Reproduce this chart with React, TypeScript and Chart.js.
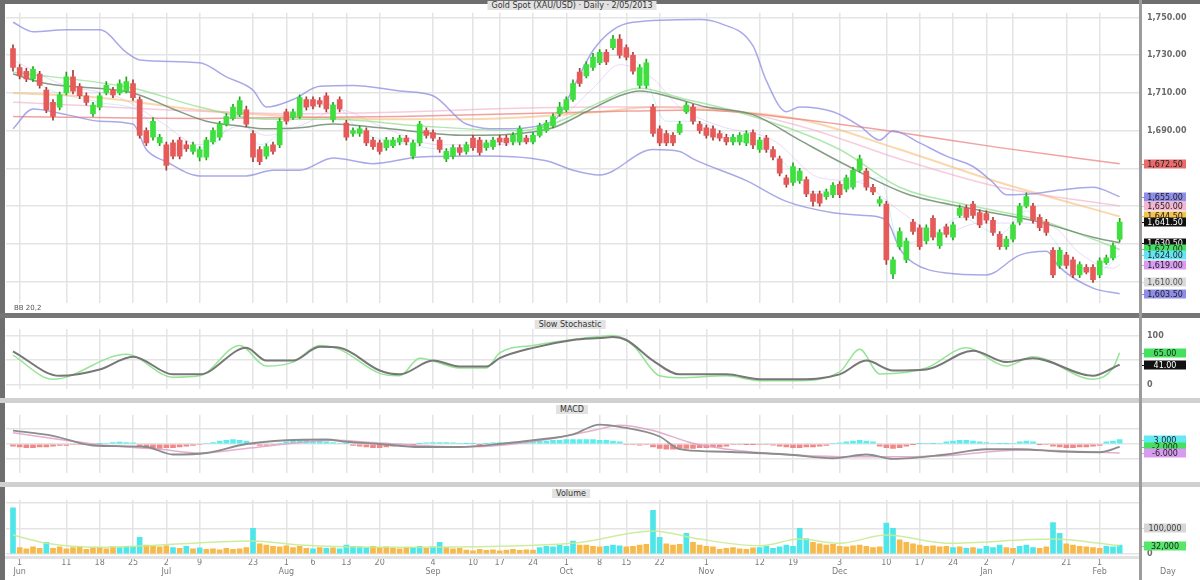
import React, { useEffect, useRef } from "react";
import { Chart, registerables } from "chart.js";
Chart.register(...registerables);
Chart.defaults.font.family = '"DejaVu Sans", sans-serif';

// ---------------- price candles ----------------
const openP = [1733.5,1723.5,1721.5,1717.5,1720,1711.5,1705,1702.5,1710,1718.5,1713.5,1708.5,1699,1702.5,1710,1711.5,1710,1711,1715,1706.5,1690,1686.5,1683.5,1682.5,1683.5,1685,1682.5,1679,1676,1676,1684,1686.5,1693.5,1696.5,1698.5,1701,1688.5,1680,1676.5,1682.5,1682.5,1700,1697,1697.5,1706.5,1706.5,1706,1708.5,1696,1706.5,1694,1688.5,1688.5,1690,1685,1683.5,1681,1682,1684,1686,1676.5,1683.5,1690,1689,1685,1675,1676.5,1681,1679,1686,1685,1681,1681.5,1686,1686,1684,1684,1686,1684,1687.5,1690,1692.5,1699,1701,1706.5,1721,1719,1723.5,1726,1731.5,1734,1738.5,1734,1730,1714,1714,1702.5,1691,1688.5,1687.5,1689,1700,1702.5,1693.5,1691.5,1691,1688.5,1686.5,1684,1684,1683.5,1689,1680,1686,1680,1675,1665,1662.5,1663.5,1664,1656.5,1656.5,1655,1656,1661.5,1659,1660,1669,1668.5,1660,1651.5,1651,1614,1628.5,1621.5,1641.5,1638.5,1631.5,1643.5,1629,1639,1633.5,1645,1649,1651,1646.5,1646,1642.5,1635,1628.5,1632.5,1641.5,1650,1650,1644,1641.5,1626.5,1618.5,1624,1621.5,1613.5,1617.5,1617.5,1613.5,1620,1622.5,1632.5];
const highP = [1735.5,1725,1723,1724,1721.5,1713,1706.5,1710.5,1721,1722,1715,1710,1705,1710,1716,1713,1717,1718.5,1717,1708,1691.5,1697,1688,1684,1685,1686.5,1684.5,1684,1681.5,1686.5,1691.5,1695,1699,1704,1708,1703,1690,1681.5,1683,1684,1696.5,1701.5,1701.5,1709,1708,1708,1707.5,1710,1705,1708,1695.5,1691.5,1692.5,1691.5,1686.5,1685,1686.5,1686.5,1687.5,1687.5,1685,1695,1691.5,1690.5,1686.5,1680.5,1682.5,1682.5,1684,1687.5,1686.5,1685,1686.5,1687.5,1687.5,1689,1692.5,1687.5,1689,1694,1695.5,1699,1705,1708,1717,1723,1726.5,1731,1733,1733,1740.5,1741,1735.5,1731.5,1725,1728,1704,1692.5,1690,1689,1695,1705,1704,1695,1693,1692.5,1690,1688,1688,1689,1690,1690.5,1686.5,1687.5,1681.5,1676.5,1666.5,1673,1670,1665.5,1658,1658,1659,1662.5,1663,1666.5,1670.5,1677,1670,1661.5,1655,1652.5,1623,1638.5,1633,1643,1640,1640,1645,1637.5,1640.5,1641.5,1650.5,1650.5,1652.5,1648,1647.5,1644,1636.5,1634,1641.5,1651.5,1657,1651.5,1645.5,1643,1628,1628,1625.5,1623,1620.5,1619,1619,1622.5,1624,1630.5,1643.5];
const lowP = [1721.5,1717.5,1716,1716,1712.5,1699.5,1695.5,1701,1709,1709.5,1707,1703.5,1697.5,1701,1709,1707.5,1709,1710,1706,1686,1682,1685,1682,1669,1675,1675,1679,1677.5,1674,1674.5,1683,1685,1692.5,1695.5,1697.5,1692,1673.5,1672,1675,1677.5,1681,1693.5,1696,1696.5,1701,1701.5,1702.5,1700,1694.5,1700,1685,1687,1687,1682,1680,1677.5,1679.5,1681,1682.5,1682.5,1675,1682,1686,1684.5,1678.5,1673.5,1675,1677,1677.5,1679.5,1677,1679.5,1680,1682.5,1682,1682.5,1682.5,1683,1683,1686.5,1689,1691.5,1697.5,1700,1705.5,1713.5,1718,1722,1725,1725,1733,1728.5,1727.5,1720,1712.5,1712.5,1687,1682,1682,1682,1688,1699,1693.5,1688.5,1686,1685,1684.5,1682.5,1682.5,1682.5,1682,1680.5,1678.5,1678.5,1674.5,1666,1660,1661,1662,1655,1650,1650,1653.5,1654.5,1654.5,1657.5,1659,1668,1658.5,1656,1650,1619,1611.5,1627,1620,1635,1627,1630,1632,1627.5,1633.5,1632,1644,1642.5,1643.5,1638.5,1641,1634.5,1627,1627,1631,1640,1649,1641,1637,1634.5,1612,1617,1617,1612,1612,1614,1609.5,1612,1619,1621.5,1631];
const closeP = [1723.5,1719,1717.5,1722.5,1714,1701,1697.5,1709,1718.5,1711,1708.5,1705,1703.5,1708.5,1714,1709,1715,1716,1707.5,1687.5,1683.5,1695,1686.5,1671.5,1676.5,1676.5,1680.5,1682.5,1680,1685,1690,1693.5,1697.5,1702.5,1706,1693.5,1676,1673.5,1681.5,1679,1695,1695,1700,1707.5,1702.5,1703,1704,1701.5,1703.5,1701.5,1686.5,1690,1691,1683.5,1681.5,1679,1685,1685,1686,1684,1683.5,1693.5,1687.5,1686,1680,1679,1681,1678.5,1682.5,1681,1678.5,1683.5,1685,1684,1683.5,1687.5,1691,1684,1687.5,1692.5,1694,1697.5,1702.5,1706.5,1715,1715,1725,1729,1731.5,1726.5,1738.5,1730,1729,1721.5,1723.5,1726,1688.5,1683.5,1683.5,1683.5,1693.5,1703.5,1695,1690,1687.5,1686.5,1686,1684,1686.5,1687.5,1688.5,1682.5,1685,1680,1676,1667.5,1661.5,1671,1668.5,1656.5,1652.5,1651.5,1657.5,1661,1656,1665,1669,1675,1660,1657.5,1653.5,1621.5,1621.5,1636.5,1631.5,1636.5,1628.5,1638.5,1633.5,1636,1635,1640,1649,1644,1645,1640,1642.5,1636,1628.5,1632.5,1640,1650,1655,1642.5,1638.5,1636,1613.5,1626.5,1618.5,1613.5,1619,1615,1611,1621,1622.5,1629,1641.5];

// ---------------- overlays [barIndex, price] ----------------
const upperBand = [[0,1747.5],[3,1742.5],[8,1743.5],[13,1743.5],[17,1731.5],[19,1727.5],[28,1726],[32,1718.5],[36,1711.5],[38,1702.5],[42,1706.5],[46,1713.5],[51,1714],[58,1711],[63,1708.5],[68,1693.5],[73,1691],[80,1693.5],[82,1698.5],[84,1712.5],[87,1732.5],[90,1743.5],[93,1747.5],[103,1749],[106,1747],[111,1735],[113,1716.5],[116,1700],[118,1702.5],[123,1700],[127,1692.5],[130,1685],[132,1690],[136,1683.5],[140,1676.5],[144,1671],[147,1662.5],[149,1656],[153,1656.5],[157,1658.5],[162,1660],[166,1655]];
const lowerBand = [[0,1691],[3,1701.5],[8,1698.5],[13,1695],[18,1693.5],[20,1680],[23,1673.5],[28,1666],[35,1666],[39,1669],[43,1669],[48,1675.5],[54,1672.5],[61,1676],[70,1676.5],[80,1674],[84,1669],[88,1666.5],[96,1680],[100,1679],[102,1675],[110,1663.5],[116,1652.5],[123,1646.5],[128,1645],[131,1642.5],[133,1627.5],[135,1620],[140,1614.5],[146,1613.5],[151,1624],[155,1626],[157,1617.5],[162,1606.5],[166,1603.5]];
const middleBand = [[0,1720],[5,1715],[18,1710],[24,1701.5],[29,1695],[34,1692.5],[38,1691],[43,1691.5],[48,1693.5],[55,1691.5],[68,1687.5],[76,1688.5],[81,1691.5],[86,1700],[91,1708.5],[94,1711],[99,1707.5],[104,1702.5],[111,1698.5],[118,1685],[124,1673.5],[134,1656.5],[144,1648.5],[154,1641.5],[162,1633.5],[166,1630.5]];
const greenMA = [[0,1721],[18,1712.5],[28,1702.5],[38,1696],[48,1696],[61,1692.5],[76,1690],[82,1695],[88,1705],[94,1712.5],[100,1707.5],[111,1697.5],[124,1680],[133,1660],[144,1650],[154,1642.5],[162,1632.5],[166,1627]];
const orangeMA = [[0,1710],[13,1707.5],[28,1701],[43,1697.5],[58,1696],[73,1696.5],[88,1700],[96,1702.5],[103,1701.5],[118,1696],[133,1680],[148,1662.5],[166,1644.5]];
const redMA = [[0,1697.5],[28,1696.5],[58,1697.5],[88,1700],[103,1701],[118,1696],[133,1689],[148,1681],[166,1672.5]];
const pinkMA = [[0,1705],[43,1699],[88,1702.5],[103,1702.5],[118,1692.5],[133,1675],[148,1660],[166,1650]];
const cyanMA = [[0,1725],[5,1712.5],[13,1705],[19,1700],[24,1680],[30,1682.5],[34,1699],[37,1682.5],[43,1699],[48,1704],[52,1690],[58,1683.5],[66,1680],[73,1684],[79,1690],[85,1715],[90,1730],[94,1725],[98,1695],[102,1695],[108,1686.5],[115,1675],[120,1657.5],[126,1662.5],[130,1665],[133,1630],[138,1635],[142,1644],[148,1635],[152,1647.5],[156,1632.5],[159,1619],[163,1616],[166,1624]];
const purpleMA = [[0,1727.5],[7,1715],[16,1707.5],[22,1695],[28,1682.5],[34,1692.5],[38,1687.5],[43,1692.5],[49,1701],[55,1692.5],[64,1682.5],[73,1682.5],[80,1690],[87,1712.5],[91,1725],[96,1717.5],[100,1702.5],[106,1692.5],[114,1685],[121,1665],[127,1662.5],[133,1647.5],[139,1635],[145,1641],[151,1641],[156,1639],[160,1625],[165,1617],[166,1619]];
const priceTicks = [1610, 1630, 1650, 1670, 1690, 1710, 1730, 1750];
const priceTickShown = [1690, 1710, 1730, 1750];

// ---------------- slow stochastic ----------------
const stochK = [[0,68],[7,18],[13,31],[18,57],[24,21],[28,21],[35,75],[38,49],[42,49],[46,77],[49,75],[55,29],[58,21],[63,49],[67,37],[71,37],[73,54],[78,75],[84,91],[88,95],[90,97],[92,91],[96,49],[100,21],[107,21],[112,11],[117,11],[124,21],[128,49],[132,29],[137,31],[144,69],[149,46],[153,54],[162,18],[165,34],[166,41]];
const stochD = [[0,60],[6,11],[17,62],[24,15],[28,18],[34,80],[38,38],[42,46],[46,80],[49,72],[55,23],[58,18],[61,54],[67,34],[71,34],[73,65],[78,80],[84,92],[88,98],[90,100],[93,80],[97,18],[100,14],[107,18],[112,8],[117,8],[124,26],[127,72],[130,22],[137,34],[143,75],[149,38],[153,57],[162,11],[165,34],[166,65]];
const stochTicks = [0, 50, 100];

// ---------------- MACD ----------------
const macdLine = [[0,9],[6,5.5],[12,-1],[20,-2],[24,-7],[29,-6],[35,0],[41,2.5],[47,3],[50,1.5],[55,0],[61,-2],[67,-2],[73,0],[78,2.5],[84,6.5],[88,13],[91,11.5],[97,5],[100,-3.5],[105,-5],[116,-7],[123,-9.5],[128,-7],[132,-10],[140,-7],[146,-3.5],[151,-3.5],[157,-5],[163,-5.5],[166,-2]];
const signalLine = [[0,7.5],[7,3],[14,-1],[22,-3.5],[28,-6],[34,-3.5],[42,0.5],[48,2.5],[54,1],[61,-1],[68,-2],[74,-0.5],[80,3],[87,9],[91,12.5],[96,9],[102,0.5],[109,-4.5],[118,-7.5],[126,-8.5],[133,-8.5],[141,-7.5],[147,-5],[153,-4],[160,-5],[166,-6]];
const macdHist = [-1.5,-2,-2.5,-2.5,-2,-2,-1.5,-1,-1,-0.5,-0.5,-0.3,-0.3,0.3,0.5,1,1.2,1,0.8,-1.5,-2.5,-3,-3,-2.5,-2.5,-2,-1.5,-1,-0.5,0.5,1,2,2.5,3,2.5,2,-0.5,-1,-1,-0.5,0.5,1.5,2,2.5,2.5,2,2,1.5,1,0.5,0.3,-1,-1.5,-2,-2.5,-2.5,-2,-1.5,-1,-0.5,-0.3,0.3,0.8,1,1,1,0.8,0.5,0.3,0.3,-0.3,0.3,0.8,1,1,1.2,1.2,1.5,1.5,2,2,2.5,2.5,3,3,3,3,3,2.5,2.5,2,1.5,-0.5,-0.5,-0.8,-0.5,-2,-3,-3.5,-3.5,-3,-3,-3,-2.5,-2.5,-2,-2,-1.5,-0.5,-0.5,-0.3,-0.3,-0.5,-0.5,-0.8,-1.5,-2,-2.5,-2.5,-2,-2,-1.5,-1,0.5,0.8,1.5,2,2.5,2,1.5,-1.5,-2.5,-3,-2.5,-1.5,-0.3,0.3,0.5,0.3,0.5,1.5,2,2.5,2.5,2,1.5,1,0.5,0.3,0.3,0.5,1.5,2,1.5,-0.3,-0.5,-1.5,-2,-2.5,-2.5,-2,-2,-1.5,-1,1.5,2,3];
const macdTicks = [-10, 0, 10];

// ---------------- volume (thousands) ----------------
const volume = [180,25,20,28,22,45,22,28,20,25,30,18,24,26,20,28,25,30,28,65,35,30,28,32,25,22,30,20,24,18,20,16,22,18,20,25,100,40,35,30,28,32,25,30,22,20,25,22,24,20,35,30,28,25,30,25,28,22,20,24,25,30,22,28,45,25,20,22,15,12,18,14,16,12,15,18,14,16,15,25,30,28,35,30,50,35,35,30,28,30,35,32,28,30,35,38,170,65,40,35,38,80,45,35,30,28,18,22,25,20,18,24,25,30,22,28,35,30,100,60,45,40,35,38,30,28,32,35,30,25,28,120,100,55,45,40,35,30,32,28,30,25,28,22,25,20,30,25,35,25,22,30,35,25,22,28,122,80,40,35,30,28,25,22,30,28,35];
const volumeCyan = [1,0,0,0,0,1,0,0,0,0,0,0,0,0,0,0,1,1,1,1,0,0,0,0,1,0,1,0,1,0,0,0,0,0,0,0,1,0,0,0,0,0,0,0,0,1,0,1,0,1,1,1,1,1,0,0,0,0,0,0,1,1,0,1,1,0,0,0,0,0,0,0,0,0,0,0,0,0,0,1,1,1,1,1,1,0,0,0,0,1,1,1,0,0,0,0,1,1,0,0,0,1,0,0,0,0,0,0,0,0,0,0,1,1,1,1,1,1,1,1,0,0,0,0,0,0,0,0,0,0,0,1,1,0,0,0,0,0,0,0,0,1,0,1,0,1,1,1,1,0,0,1,1,1,0,0,1,1,0,0,0,0,0,0,1,1,1];
const volumeMA = [[0,74],[5,42],[13,26],[36,51],[43,35],[58,26],[84,42],[96,90],[103,58],[112,32],[118,58],[124,42],[131,74],[140,42],[156,58],[163,42],[166,32]];
const volumeTicks = [0, 100, 200];

// ---------------- time axis ----------------
const gridIdx = [1, 8, 13, 18, 23, 28, 36, 41, 45, 50, 55, 63, 69, 73, 78, 83, 88, 92, 97, 104, 112, 117, 124, 131, 136, 141, 146, 150, 158, 163];
const dayLabels = ["1","11","18","25","2","9","23","1","6","13","20","4","10","17","24","1","8","15","22","1","12","19","3","10","17","24","2","7","21","1"];
const monthLabels = ["Jun","","","","Jul","","","Aug","","","","Sep","","","","Oct","","","","Nov","","","Dec","","","","Jan","","","Feb"];

// ---------------- layout constants ----------------
const X_MIN = -1.05;
const X_MAX = 168.9;
const AXIS_W = 61;
const GRID = "#e4e4e4";

const RED = "#e65a5a", RED_W = "#a33a3a", GREEN = "#3fdf3f", GREEN_W = "#23a023";

const last = (a: number[][]) => a[a.length - 1][1];
const pts = (a: number[][]) => a.map(([x, y]) => ({ x, y }));
const fmt2 = (v: number) => v.toLocaleString("en-US", { minimumFractionDigits: 2, maximumFractionDigits: 2 });

function xScale(show: boolean) {
  return {
    type: "linear",
    min: X_MIN,
    max: X_MAX,
    offset: false,
    afterBuildTicks: (s: any) => { s.ticks = gridIdx.map((v) => ({ value: v })); },
    afterFit: (s: any) => { s.height = show ? 26 : 0; },
    grid: { color: GRID, lineWidth: 1.5, drawTicks: false, offset: false },
    border: { display: false },
    ticks: {
      display: show, autoSkip: false, maxRotation: 0, padding: 4, color: "#7a7a7a",
      font: { size: 8 },
      callback: (v: number) => {
        const k = gridIdx.indexOf(v);
        if (k < 0) return "";
        return monthLabels[k] ? [dayLabels[k], monthLabels[k]] : dayLabels[k];
      },
    },
  };
}

function yScale(min: number, max: number, ticks: number[], label: (v: number) => string) {
  return {
    position: "right",
    min, max,
    afterBuildTicks: (s: any) => { s.ticks = ticks.map((v) => ({ value: v })); },
    afterFit: (s: any) => { s.width = AXIS_W; },
    grid: { color: GRID, lineWidth: 1.5, drawTicks: false },
    border: { display: false },
    ticks: { padding: 8, color: "#6a6a6a", font: { size: 8, weight: "bold" }, callback: (v: number) => label(v) },
  };
}

type Box = { v: number; bg: string; fg?: string; text: string };
function boxPlugin(boxes: Box[]) {
  return {
    id: "valueBoxes",
    afterDraw(chart: any) {
      const ys = chart.scales.y;
      const ctx = chart.ctx;
      ctx.save();
      ctx.font = '8px "DejaVu Sans", sans-serif';
      ctx.textBaseline = "middle";
      ctx.textAlign = "center";
      for (const b of boxes) {
        const y = Math.round(ys.getPixelForValue(b.v));
        ctx.fillStyle = b.bg;
        ctx.fillRect(1144, y - 4.5, 42, 9);
        ctx.strokeStyle = b.bg;
        ctx.lineWidth = 1;
        ctx.beginPath();
        ctx.moveTo(1139, y + 0.5);
        ctx.lineTo(1144, y + 0.5);
        ctx.stroke();
        ctx.fillStyle = b.fg || "#222";
        ctx.fillText(b.text, 1165, y + 0.5);
      }
      ctx.restore();
    },
  };
}

const lineDs = (a: number[][], color: string, width: number, order: number) => ({
  type: "line",
  data: pts(a),
  borderColor: color,
  borderWidth: width,
  pointRadius: 0,
  fill: false,
  cubicInterpolationMode: "monotone",
  order,
});

const baseOpts = (padding: any) => ({
  responsive: false,
  animation: false,
  events: [],
  layout: { padding },
  plugins: { legend: { display: false }, tooltip: { enabled: false } },
});

function priceConfig() {
  const idx = openP.map((_, i) => i);
  const up = idx.map((i) => closeP[i] >= openP[i]);
  const boxes: Box[] = [
    { v: last(redMA), bg: "#e96b6b", text: fmt2(last(redMA)) },
    { v: last(upperBand), bg: "#8e8ee9", text: fmt2(last(upperBand)) },
    { v: last(pinkMA), bg: "#f3b5cf", text: fmt2(last(pinkMA)) },
    { v: last(orangeMA), bg: "#f3c24f", text: fmt2(last(orangeMA)) },
    { v: closeP[closeP.length - 1], bg: "#111", fg: "#fff", text: fmt2(closeP[closeP.length - 1]) },
    { v: last(middleBand), bg: "#111", fg: "#fff", text: fmt2(last(middleBand)) },
    { v: last(greenMA), bg: "#45e05e", text: fmt2(last(greenMA)) },
    { v: last(cyanMA), bg: "#62e5f0", text: fmt2(last(cyanMA)) },
    { v: last(purpleMA), bg: "#d79cf0", text: fmt2(last(purpleMA)) },
    { v: priceTicks[0], bg: "#dadada", fg: "#555", text: fmt2(priceTicks[0]) },
    { v: last(lowerBand), bg: "#8e8ee9", text: fmt2(last(lowerBand)) },
  ];
  return {
    type: "line",
    data: {
      datasets: [
        {
          type: "bar",
          data: idx.map((i) => ({ x: i, y: [openP[i], closeP[i]] })),
          backgroundColor: up.map((u) => (u ? GREEN : RED)),
          grouped: false, maxBarThickness: 5, barPercentage: 1, categoryPercentage: 1, order: 0,
        },
        {
          type: "bar",
          data: idx.map((i) => ({ x: i, y: [lowP[i], highP[i]] })),
          backgroundColor: up.map((u) => (u ? GREEN_W : RED_W)),
          grouped: false, maxBarThickness: 1, barPercentage: 1, categoryPercentage: 1, order: 1,
        },
        lineDs(cyanMA, "rgba(110,215,235,0.35)", 1, 9),
        lineDs(purpleMA, "rgba(200,150,235,0.35)", 1, 9),
        lineDs(redMA, "rgba(238,130,130,0.75)", 1.5, 8),
        lineDs(pinkMA, "rgba(240,170,200,0.6)", 1.5, 8),
        lineDs(orangeMA, "rgba(245,190,120,0.6)", 2, 8),
        lineDs(greenMA, "rgba(130,220,130,0.65)", 1.5, 7),
        lineDs(middleBand, "rgba(110,140,110,0.85)", 1.5, 6),
        lineDs(upperBand, "rgba(140,140,225,0.75)", 1.5, 6),
        lineDs(lowerBand, "rgba(140,140,225,0.75)", 1.5, 6),
      ],
    },
    options: {
      ...baseOpts({ left: 6, top: 5, bottom: 3, right: 0 }),
      scales: {
        x: xScale(false),
        y: yScale(1598.5, 1752.5, priceTicks, (v) => (priceTickShown.includes(v) ? fmt2(v) : "")),
      },
    },
    plugins: [boxPlugin(boxes)],
  };
}

function stochConfig() {
  const boxes: Box[] = [
    { v: last(stochD), bg: "#45e05e", text: last(stochD).toFixed(2) },
    { v: last(stochK), bg: "#111", fg: "#fff", text: last(stochK).toFixed(2) },
  ];
  return {
    type: "line",
    data: {
      datasets: [
        lineDs(stochK, "#777777", 2, 0),
        lineDs(stochD, "rgba(140,225,140,0.9)", 1.5, 1),
      ],
    },
    options: {
      ...baseOpts({ left: 6, top: 2, bottom: 4, right: 0 }),
      scales: {
        x: xScale(false),
        y: yScale(-9.2, 113.8, stochTicks, (v) => (v === 50 ? "" : String(v))),
      },
    },
    plugins: [boxPlugin(boxes)],
  };
}

function macdConfig() {
  const idx = macdHist.map((_, i) => i);
  const boxes: Box[] = [
    { v: macdHist[macdHist.length - 1], bg: "#62e9f2", text: macdHist[macdHist.length - 1].toFixed(3) },
    { v: last(macdLine), bg: "#45e05e", text: last(macdLine).toFixed(3) },
    { v: last(signalLine), bg: "#d79cf0", text: last(signalLine).toFixed(3) },
  ];
  return {
    type: "line",
    data: {
      datasets: [
        lineDs(macdLine, "#8c8c8c", 1.8, 0),
        lineDs(signalLine, "rgba(225,160,200,0.85)", 1.5, 1),
        {
          type: "bar",
          data: idx.map((i) => ({ x: i, y: macdHist[i] })),
          backgroundColor: macdHist.map((h) => (h >= 0 ? "#5ceeee" : "#f08888")),
          grouped: false, maxBarThickness: 5, barPercentage: 1, categoryPercentage: 1, order: 2,
        },
      ],
    },
    options: {
      ...baseOpts({ left: 6, top: 2, bottom: 4, right: 0 }),
      scales: {
        x: xScale(false),
        y: yScale(-19.5, 19.5, macdTicks, () => ""),
      },
    },
    plugins: [boxPlugin(boxes)],
  };
}

function volumeConfig() {
  const idx = volume.map((_, i) => i);
  const boxes: Box[] = [
    { v: volumeTicks[1], bg: "#d6d6d6", fg: "#444", text: volumeTicks[1] + ",000" },
    { v: last(volumeMA), bg: "#56e66a", text: last(volumeMA).toFixed(0) + ",000" },
  ];
  return {
    type: "line",
    data: {
      datasets: [
        lineDs(volumeMA, "rgba(200,235,150,0.9)", 1.5, 0),
        {
          type: "bar",
          data: idx.map((i) => ({ x: i, y: volume[i] })),
          backgroundColor: volumeCyan.map((c) => (c ? "#4fe6ea" : "#f6b94c")),
          grouped: false, maxBarThickness: 5, barPercentage: 1, categoryPercentage: 1, order: 1,
        },
      ],
    },
    options: {
      ...baseOpts({ left: 6, top: 1, bottom: 0, right: 0 }),
      scales: {
        x: xScale(true),
        y: yScale(0, 211, volumeTicks, (v) => (v === 0 ? "0" : "")),
      },
    },
    plugins: [boxPlugin(boxes)],
  };
}

const titleStyle = (cx: number, top: number): React.CSSProperties => ({
  position: "absolute",
  left: cx,
  top,
  transform: "translateX(-50%)",
  fontFamily: '"DejaVu Sans", sans-serif',
  fontSize: 8,
  lineHeight: "9px",
  color: "#333",
  background: "#e2e2e2",
  padding: "0 4px",
  whiteSpace: "nowrap",
  zIndex: 3,
});

const band = (left: number, top: number, width: number, height: number, bg: string): React.CSSProperties => ({
  position: "absolute", left, top, width, height, background: bg, zIndex: 2,
});

export default function App() {
  const priceRef = useRef<HTMLCanvasElement>(null);
  const stochRef = useRef<HTMLCanvasElement>(null);
  const macdRef = useRef<HTMLCanvasElement>(null);
  const volRef = useRef<HTMLCanvasElement>(null);

  useEffect(() => {
    const charts = [
      new Chart(priceRef.current as HTMLCanvasElement, priceConfig() as any),
      new Chart(stochRef.current as HTMLCanvasElement, stochConfig() as any),
      new Chart(macdRef.current as HTMLCanvasElement, macdConfig() as any),
      new Chart(volRef.current as HTMLCanvasElement, volumeConfig() as any),
    ];
    return () => charts.forEach((c) => c.destroy());
  }, []);

  const cv = (top: number, height: number): React.CSSProperties => ({ position: "absolute", left: 0, top, width: 1200, height });

  return (
    <div style={{ position: "fixed", left: 0, top: 0, width: 1200, height: 580, background: "#fff", overflow: "hidden" }}>
      <canvas ref={priceRef} width={1200} height={316} style={cv(0, 316)} />
      <canvas ref={stochRef} width={1200} height={86} style={cv(316, 86)} />
      <canvas ref={macdRef} width={1200} height={84} style={cv(402, 84)} />
      <canvas ref={volRef} width={1200} height={93} style={cv(487, 93)} />

      <div style={band(0, 0, 1200, 4, "#6e6e6e")} />
      <div style={band(0, 0, 5, 580, "#6e6e6e")} />
      <div style={band(0, 313, 1200, 5, "#767676")} />
      <div style={band(0, 398, 1200, 5, "#d0d0d0")} />
      <div style={band(0, 482, 1200, 5, "#d0d0d0")} />
      <div style={band(5, 556, 1134, 3, "#e2e2e2")} />
      <div style={band(1139, 0, 3, 580, "#9c9c9c")} />

      <div style={titleStyle(572, 1)}>Gold Spot (XAU/USD) · Daily · 2/05/2013</div>
      <div style={titleStyle(570, 320)}>Slow Stochastic</div>
      <div style={titleStyle(572, 405)}>MACD</div>
      <div style={titleStyle(571, 489)}>Volume</div>
      <div style={{ position: "absolute", left: 14, top: 304, fontFamily: '"DejaVu Sans", sans-serif', fontSize: 7, color: "#555", zIndex: 3 }}>BB 20,2</div>
      <div style={{ position: "absolute", left: 1160, top: 567, fontFamily: '"DejaVu Sans", sans-serif', fontSize: 8, color: "#777", zIndex: 3 }}>Day</div>
    </div>
  );
}
